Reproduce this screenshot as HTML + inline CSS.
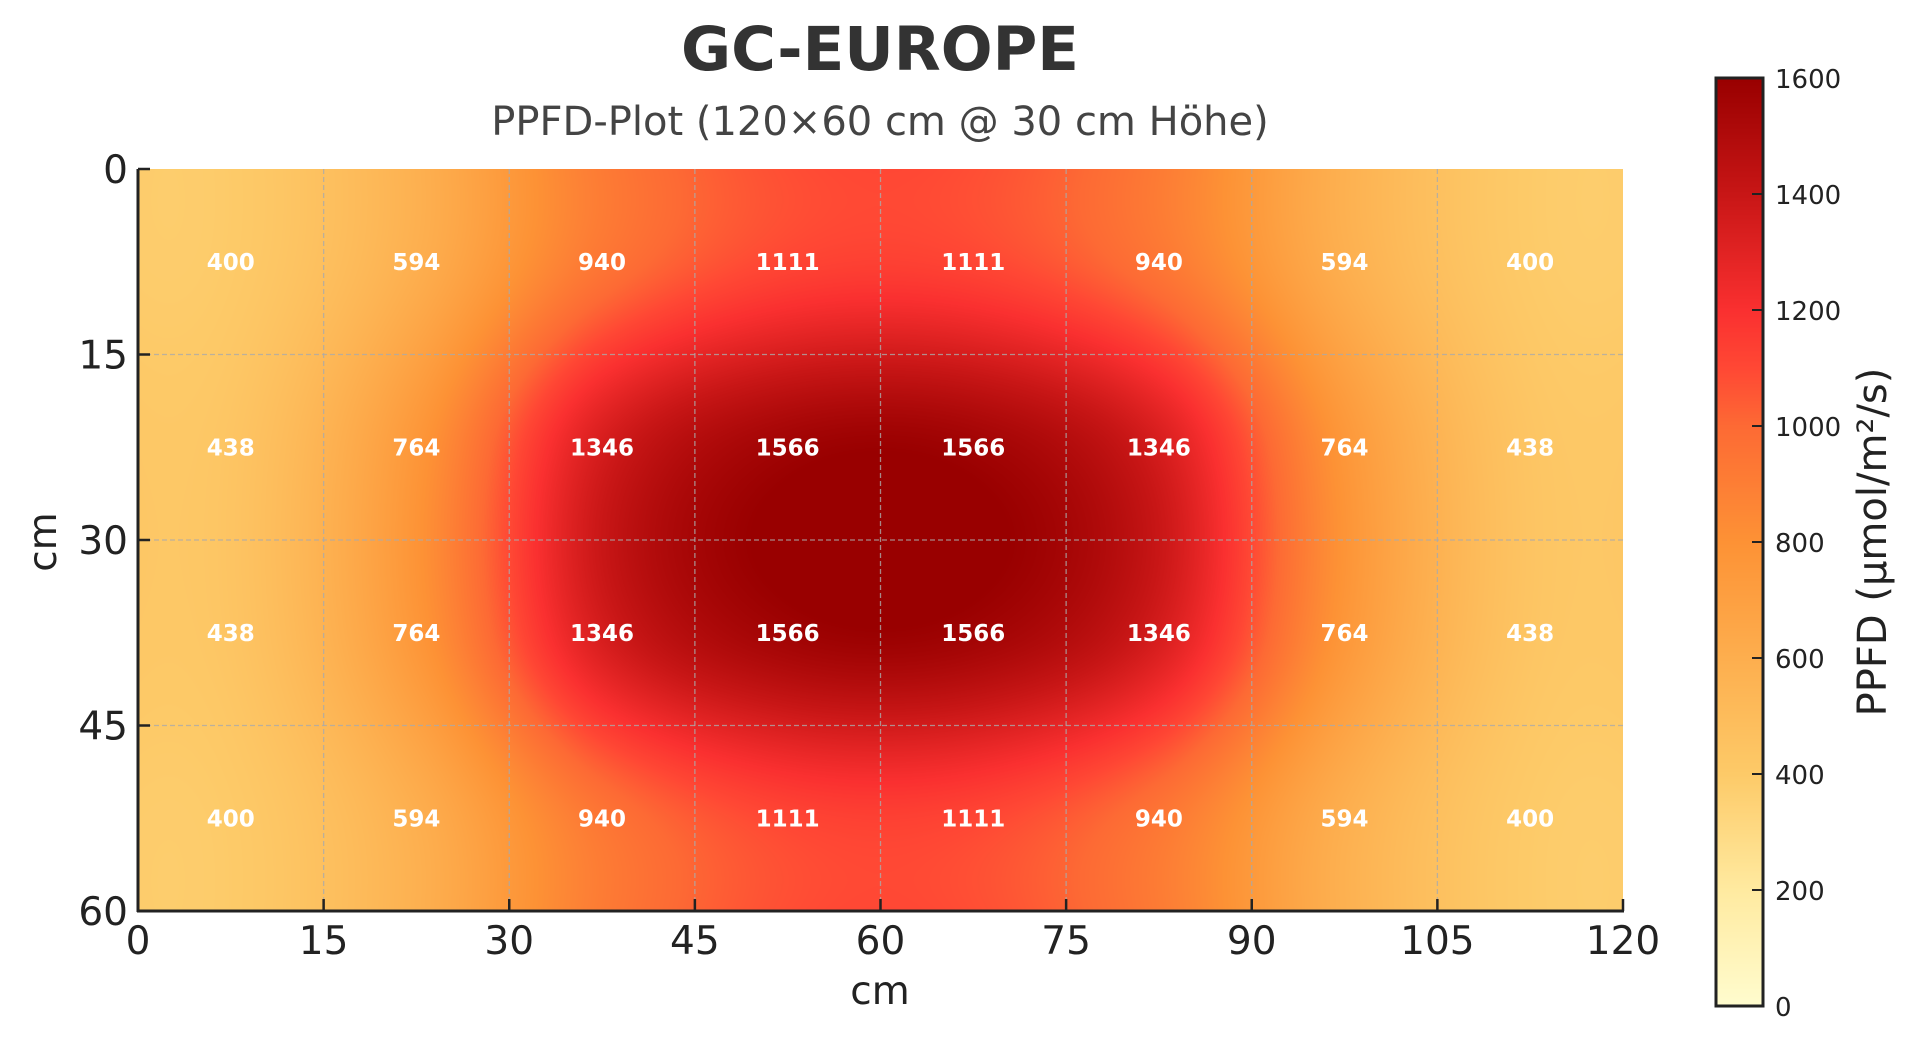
<!DOCTYPE html>
<html><head><meta charset="utf-8"><style>
html,body{margin:0;padding:0;background:#fff;width:1918px;height:1041px;overflow:hidden}
#c{position:absolute;left:138px;top:169px}
#cb{position:absolute;left:1716px;top:78px}
svg{position:absolute;left:0;top:0}
text{font-family:"DejaVu Sans","Liberation Sans",sans-serif;fill:#222}
</style></head><body>
<canvas id="c" width="1485" height="742"></canvas>
<canvas id="cb" width="47" height="928"></canvas>
<svg width="1918" height="1041" id="s"></svg>
<script>
var stops=[[0,[255,252,206]],[0.125,[255,234,160]],[0.25,[253,202,104]],[0.375,[253,174,78]],[0.5,[253,146,53]],[0.625,[253,106,52]],[0.6875,[255,72,52]],[0.75,[250,48,48]],[0.875,[200,22,22]],[1,[153,0,0]]];
function col(v){var t=Math.max(0,Math.min(1,v/1600));for(var i=1;i<stops.length;i++){if(t<=stops[i][0]){var a=stops[i-1],b=stops[i],f=(t-a[0])/(b[0]-a[0]);return [0,1,2].map(function(k){return a[1][k]+(b[1][k]-a[1][k])*f});}}return stops[stops.length-1][1];}
var G=[[400,594,940,1111,1111,940,594,400],[438,764,1346,1566,1566,1346,764,438],[438,764,1346,1566,1566,1346,764,438],[400,594,940,1111,1111,940,594,400]];
function cr(p0,p1,p2,p3,t){return 0.5*((2*p1)+(-p0+p2)*t+(2*p0-5*p1+4*p2-p3)*t*t+(-p0+3*p1-3*p2+p3)*t*t*t);}
function g(r,c){r=Math.max(0,Math.min(3,r));c=Math.max(0,Math.min(7,c));return G[r][c];}
function val(x,y){var cx=x/15-0.5,cy=y/15-0.5;var ci=Math.floor(cx),ri=Math.floor(cy),tx=cx-ci,ty=cy-ri;var rows=[];for(var j=-1;j<3;j++){var r=ri+j;rows.push(cr(g(r,ci-1),g(r,ci),g(r,ci+1),g(r,ci+2),tx));}return cr(rows[0],rows[1],rows[2],rows[3],ty);}
var c=document.getElementById('c'),ctx=c.getContext('2d'),W=1485,H=742,im=ctx.createImageData(W,H);
for(var py=0;py<H;py++){for(var px=0;px<W;px++){var v=val((px+0.5)/W*120,(py+0.5)/H*60);var k=col(v),o=(py*W+px)*4;im.data[o]=k[0];im.data[o+1]=k[1];im.data[o+2]=k[2];im.data[o+3]=255;}}
ctx.putImageData(im,0,0);
var cb=document.getElementById('cb'),bx=cb.getContext('2d'),bi=bx.createImageData(47,928);
for(var y=0;y<928;y++){var k=col(1600*(1-y/927));for(var x=0;x<47;x++){var o=(y*47+x)*4;bi.data[o]=k[0];bi.data[o+1]=k[1];bi.data[o+2]=k[2];bi.data[o+3]=255;}}
bx.putImageData(bi,0,0);
var s='',L=138,T=169,R=1623,B=911,sx=(R-L)/120,sy=(B-T)/60;
for(var i=1;i<8;i++){var X=L+i*15*sx;s+='<line x1="'+X+'" y1="'+T+'" x2="'+X+'" y2="'+B+'" stroke="#aaa" stroke-width="1.3" stroke-dasharray="5,3" opacity="0.8"/>';}
for(var i=1;i<4;i++){var Y=T+i*15*sy;s+='<line x1="'+L+'" y1="'+Y+'" x2="'+R+'" y2="'+Y+'" stroke="#aaa" stroke-width="1.3" stroke-dasharray="5,3" opacity="0.8"/>';}
for(var r=0;r<4;r++)for(var q=0;q<8;q++){s+='<text x="'+(L+(7.5+15*q)*sx)+'" y="'+(T+(7.5+15*r)*sy+8)+'" text-anchor="middle" font-size="23" font-weight="bold" style="fill:#fff">'+G[r][q]+'</text>';}
s+='<line x1="'+L+'" y1="'+T+'" x2="'+L+'" y2="'+(B+1)+'" stroke="#222" stroke-width="3"/><line x1="'+(L-1)+'" y1="'+B+'" x2="'+(R+1)+'" y2="'+B+'" stroke="#222" stroke-width="3"/>';
for(var i=0;i<=8;i++){var X=L+i*15*sx;s+='<line x1="'+X+'" y1="'+B+'" x2="'+X+'" y2="'+(B-12)+'" stroke="#222" stroke-width="2.5"/><text x="'+X+'" y="'+(B+43)+'" text-anchor="middle" font-size="39">'+(i*15)+'</text>';}
for(var i=0;i<=4;i++){var Y=T+i*15*sy;s+='<line x1="'+L+'" y1="'+Y+'" x2="'+(L+12)+'" y2="'+Y+'" stroke="#222" stroke-width="2.5"/><text x="'+(L-10)+'" y="'+(Y+14)+'" text-anchor="end" font-size="39">'+(i*15)+'</text>';}
s+='<text x="880" y="1004" text-anchor="middle" font-size="39">cm</text>';
s+='<text transform="translate(56,542) rotate(-90)" text-anchor="middle" font-size="39">cm</text>';
s+='<text x="880" y="70" text-anchor="middle" font-size="61" font-weight="bold" style="fill:#333">GC-EUROPE</text>';
s+='<text x="880" y="135" text-anchor="middle" font-size="40" style="fill:#444">PPFD-Plot (120×60 cm @ 30 cm Höhe)</text>';
s+='<rect x="1716" y="78" width="47" height="928" fill="none" stroke="#222" stroke-width="3"/>';
for(var i=0;i<=8;i++){var Y=1006-i*116;s+='<line x1="1752" y1="'+Y+'" x2="1763" y2="'+Y+'" stroke="#222" stroke-width="2"/><text x="1775" y="'+(Y+10)+'" font-size="26">'+(i*200)+'</text>';}
s+='<text transform="translate(1886,542) rotate(-90)" text-anchor="middle" font-size="40">PPFD (µmol/m²/s)</text>';
document.getElementById('s').innerHTML=s;
</script>
</body></html>
